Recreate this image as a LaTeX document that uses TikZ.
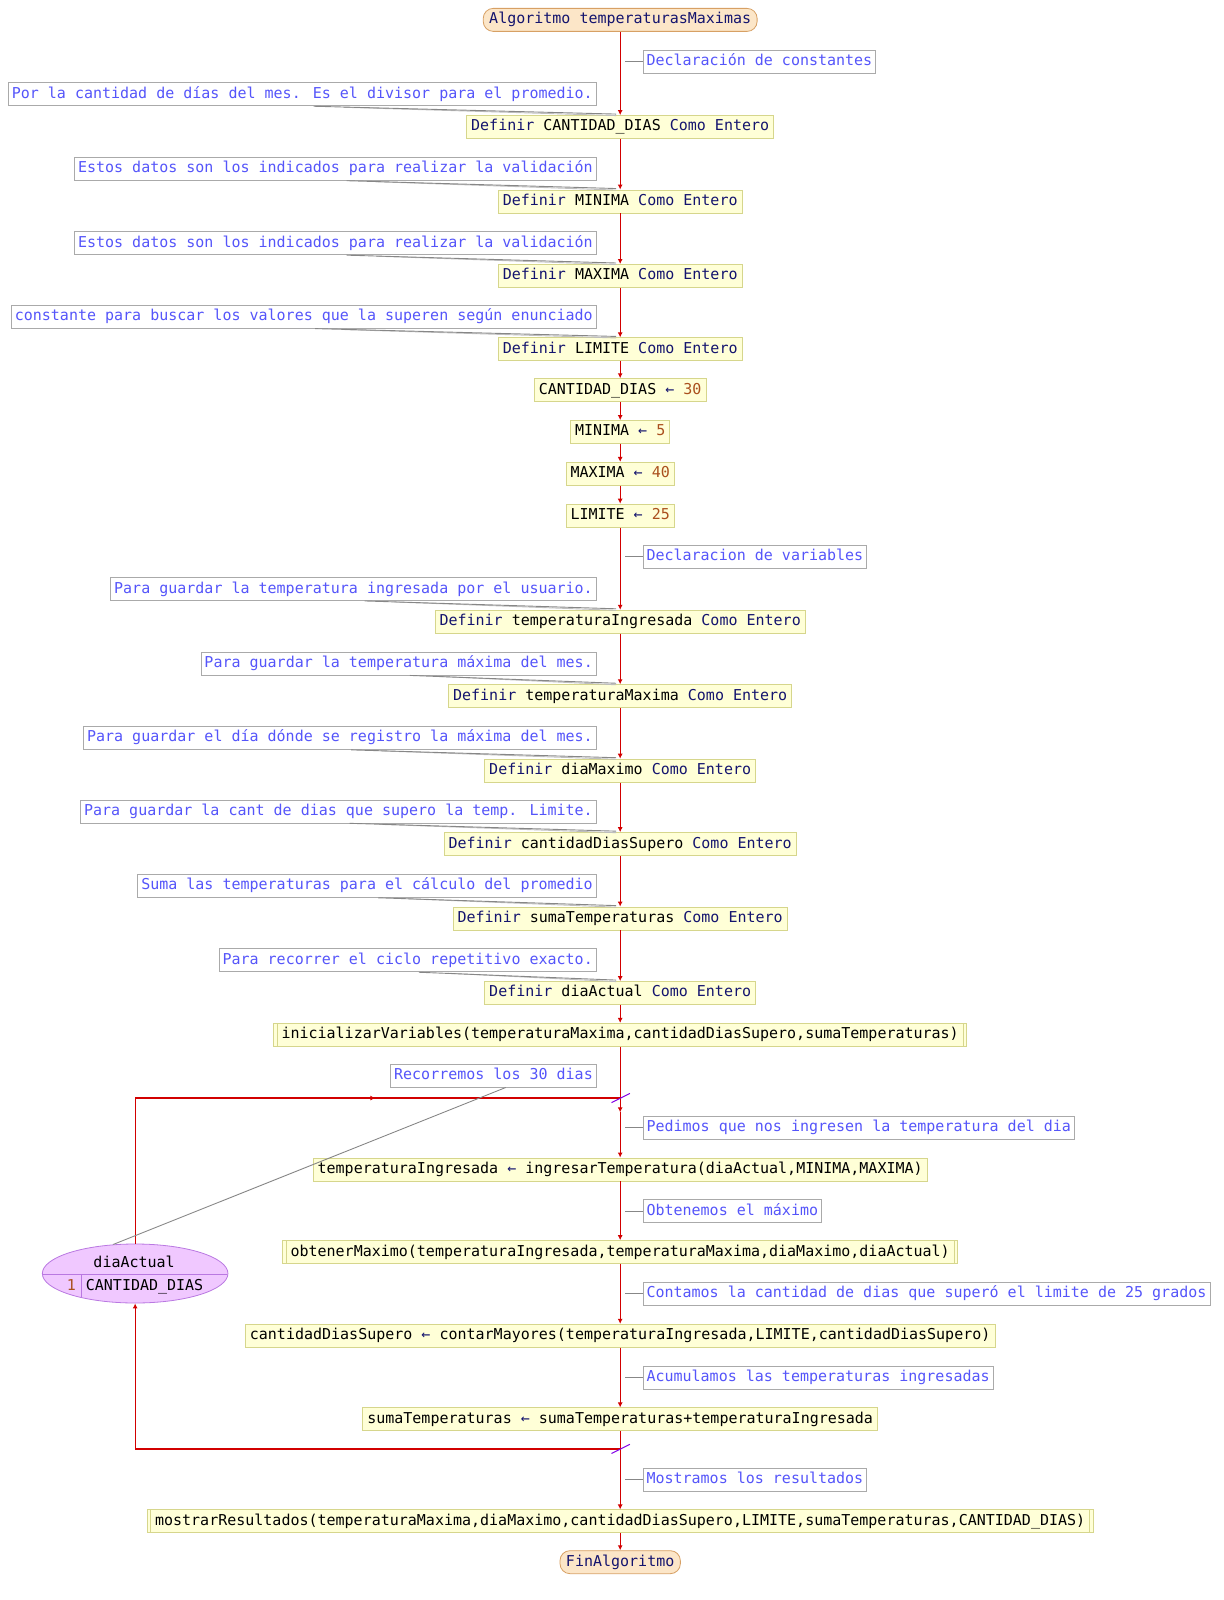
\documentclass[tikz,border=0pt]{standalone}
\usepackage{fontspec}
\usetikzlibrary{arrows.meta,shapes.geometric,calc}
\newfontfamily\codefam{DejaVu Sans Mono}
\newcommand\cf{\codefam\fontsize{15.0pt}{18pt}\selectfont}
\definecolor{flowred}{RGB}{210,0,0}
\definecolor{procfill}{RGB}{255,255,215}
\definecolor{procdraw}{RGB}{214,214,140}
\definecolor{termfill}{RGB}{252,230,200}
\definecolor{termdraw}{RGB}{215,160,100}
\definecolor{kwcol}{RGB}{20,20,110}
\definecolor{numcol}{RGB}{170,80,30}
\definecolor{cmtext}{RGB}{85,85,250}
\definecolor{cmdraw}{RGB}{170,170,170}
\definecolor{cmline}{RGB}{135,135,135}
\definecolor{cmline2}{RGB}{190,190,190}
\definecolor{elfill}{RGB}{240,200,255}
\definecolor{eldraw}{RGB}{185,120,225}
\definecolor{slashcol}{RGB}{130,0,230}
\newcommand\kw[1]{\textcolor{kwcol}{#1}}
\newcommand\asg{\textcolor{kwcol}{←}}
\newcommand\nm[1]{\textcolor{numcol}{#1}}
\begin{document}
\begin{tikzpicture}[x=1.02pt,y=-1.02pt,
  base/.style={font=\cf, minimum height=23pt, inner ysep=0pt, text height=11.5pt, text depth=3.5pt, line width=0.8pt},
  proc/.style={base, draw=procdraw, fill=procfill, inner xsep=4.5pt},
  subp/.style={proc, inner xsep=8pt, path picture={\draw[procdraw, line width=0.8pt] ([xshift=3.5pt]path picture bounding box.north west) -- ([xshift=3.5pt]path picture bounding box.south west) ([xshift=-3.5pt]path picture bounding box.north east) -- ([xshift=-3.5pt]path picture bounding box.south east);}},
  term/.style={base, draw=termdraw, fill=termfill, rounded corners=10pt, inner xsep=6pt, text=kwcol},
  cmt/.style={base, draw=cmdraw, fill=white, text=cmtext, inner xsep=3.5pt},
  cmL/.style={cmt, anchor=east},
  cmR/.style={cmt, anchor=west},
  flow/.style={draw=flowred, line width=1.3pt},
  arr/.style={flow, -{Latex[length=5pt,width=5pt]}},
  cl/.style={draw=cmline, line width=0.9pt},
  clb/.style={draw=cmline2, line width=0.9pt},
  txt/.style={font=\cf, inner sep=0pt, text height=11.5pt, text depth=3.5pt}
]
\useasboundingbox (0,-1.5) rectangle (1199,1567.1);
% ---------- nodes ----------
\node[term] (start) at (608,18) {Algoritmo temperaturasMaximas};
\node[cmR] (c1) at (630,59) {Declaración de constantes};
\node[cmL] (c2) at (585,91) {Por la cantidad de días del mes. Es el divisor para el promedio.};
\node[proc] (n1) at (608,123) {\kw{Definir} CANTIDAD\_DIAS \kw{Como Entero}};
\node[cmL] (c3) at (585,164) {Estos datos son los indicados para realizar la validación};
\node[proc] (n2) at (608,196) {\kw{Definir} MINIMA \kw{Como Entero}};
\node[cmL] (c4) at (585,237) {Estos datos son los indicados para realizar la validación};
\node[proc] (n3) at (608,269) {\kw{Definir} MAXIMA \kw{Como Entero}};
\node[cmL] (c5) at (585,309) {constante para buscar los valores que la superen según enunciado};
\node[proc] (n4) at (608,341) {\kw{Definir} LIMITE \kw{Como Entero}};
\node[proc] (a1) at (608,381) {CANTIDAD\_DIAS \asg{} \nm{30}};
\node[proc] (a2) at (608,422) {MINIMA \asg{} \nm{5}};
\node[proc] (a3) at (608,463) {MAXIMA \asg{} \nm{40}};
\node[proc] (a4) at (608,504) {LIMITE \asg{} \nm{25}};
\node[cmR] (c6) at (630,544) {Declaracion de variables};
\node[cmL] (c7) at (585,576) {Para guardar la temperatura ingresada por el usuario.};
\node[proc] (n5) at (608,608) {\kw{Definir} temperaturaIngresada \kw{Como Entero}};
\node[cmL] (c8) at (585,649) {Para guardar la temperatura máxima del mes.};
\node[proc] (n6) at (608,681) {\kw{Definir} temperaturaMaxima \kw{Como Entero}};
\node[cmL] (c9) at (585,722) {Para guardar el día dónde se registro la máxima del mes.};
\node[proc] (n7) at (608,754) {\kw{Definir} diaMaximo \kw{Como Entero}};
\node[cmL] (c10) at (585,794) {Para guardar la cant de dias que supero la temp. Limite.};
\node[proc] (n8) at (608,826) {\kw{Definir} cantidadDiasSupero \kw{Como Entero}};
\node[cmL] (c11) at (585,867) {Suma las temperaturas para el cálculo del promedio};
\node[proc] (n9) at (608,899) {\kw{Definir} sumaTemperaturas \kw{Como Entero}};
\node[cmL] (c12) at (585,940) {Para recorrer el ciclo repetitivo exacto.};
\node[proc] (n10) at (608,972) {\kw{Definir} diaActual \kw{Como Entero}};
\node[subp] (s1) at (608,1013) {inicializarVariables(temperaturaMaxima,cantidadDiasSupero,sumaTemperaturas)};
\node[cmL] (c13) at (585,1053) {Recorremos los 30 dias};
\coordinate (jt) at (608,1075);
\coordinate (ja) at (608,1089);
\coordinate (jm) at (368,1075);
\node[cmR] (c14) at (630,1104) {Pedimos que nos ingresen la temperatura del dia};
\node[proc] (p1) at (608,1145) {temperaturaIngresada \asg{} ingresarTemperatura(diaActual,MINIMA,MAXIMA)};
\node[cmR] (c15) at (630,1186) {Obtenemos el máximo};
\node[subp] (s2) at (608,1226) {obtenerMaximo(temperaturaIngresada,temperaturaMaxima,diaMaximo,diaActual)};
\node[cmR] (c16) at (630,1267) {Contamos la cantidad de dias que superó el limite de 25 grados};
\node[proc] (p2) at (608,1308) {cantidadDiasSupero \asg{} contarMayores(temperaturaIngresada,LIMITE,cantidadDiasSupero)};
\node[cmR] (c17) at (630,1349) {Acumulamos las temperaturas ingresadas};
\node[proc] (p3) at (608,1390) {sumaTemperaturas \asg{} sumaTemperaturas+temperaturaIngresada};
\coordinate (jb) at (608,1419);
\node[cmR] (c18) at (630,1449) {Mostramos los resultados};
\node[subp] (s3) at (608,1490) {mostrarResultados(temperaturaMaxima,diaMaximo,cantidadDiasSupero,LIMITE,sumaTemperaturas,CANTIDAD\_DIAS)};
\node[term] (fin) at (608,1530) {FinAlgoritmo};
% ---------- loop ellipse ----------
\node[ellipse, draw=eldraw, fill=elfill, line width=0.8pt, minimum width=185.6pt, minimum height=59pt, inner sep=0pt] (el) at (132.5,1247) {};
\coordinate (elmid) at (132.5,1248);
\coordinate (eldiv) at (79.5,1248);
\begin{scope}
  \clip (el.center) ellipse [x radius=92.4pt, y radius=29.1pt];
  \draw[eldraw, line width=0.8pt] ([xshift=-100pt]elmid) -- ([xshift=100pt]elmid);
  \draw[eldraw, line width=0.8pt] (eldiv) -- ([yshift=-40pt]eldiv);
\end{scope}
\node[txt] (elv) at (131.5,1237) {diaActual};
\node[txt, text=numcol] (el1) at (70,1260) {1};
\node[txt, anchor=west] (elf) at (84,1260) {CANTIDAD\_DIAS};
% ---------- main flow ----------
\draw[arr] (start) -- (n1);
\draw[arr] (n1) -- (n2);
\draw[arr] (n2) -- (n3);
\draw[arr] (n3) -- (n4);
\draw[arr] (n4) -- (a1);
\draw[arr] (a1) -- (a2);
\draw[arr] (a2) -- (a3);
\draw[arr] (a3) -- (a4);
\draw[arr] (a4) -- (n5);
\draw[arr] (n5) -- (n6);
\draw[arr] (n6) -- (n7);
\draw[arr] (n7) -- (n8);
\draw[arr] (n8) -- (n9);
\draw[arr] (n9) -- (n10);
\draw[arr] (n10) -- (s1);
\draw[flow] (s1) -- (jt);
\draw[arr] (jt) -- (ja);
\draw[arr] (ja) -- (p1);
\draw[arr] (p1) -- (s2);
\draw[arr] (s2) -- (p2);
\draw[arr] (p2) -- (p3);
\draw[flow] (p3) -- (jb);
\draw[arr] (jb) -- (s3);
\draw[arr] (s3) -- (fin);
% loop back
\draw[flow] (el.north) -- (el.north |- jt) -- (jt);
\draw[arr] (el.north |- jt) -- (jm);
\draw[arr] (jb) -- (jb -| el.south) -- (el.south);
\draw[slashcol, line width=1pt] ($(jt)+(-8.5,4.5)$) -- ($(jt)+(9.5,-4.5)$);
\draw[slashcol, line width=1pt] ($(jb)+(-8.5,4.5)$) -- ($(jb)+(9.5,-4.5)$);
% ---------- comment connectors ----------
\foreach \c in {c1,c6,c14,c15,c16,c17,c18}{
  \draw[cl] (\c.west) -- ++(-17,0);
}
\foreach \c/\n in {c2/n1,c3/n2,c4/n3,c5/n4,c7/n5,c8/n6,c9/n7,c10/n8,c11/n9,c12/n10}{
  \draw[clb] ($(\c.south)+(40,1)$) -- ($(\n.north)+(-4,0.5)$);
  \draw[cl] ($(\c.south)+(11,0)$) -- ($(\n.north)+(-4,-1)$);
}
\draw[cl] ($(c13.south)+(12,0)$) -- (el.127);
\end{tikzpicture}
\end{document}
